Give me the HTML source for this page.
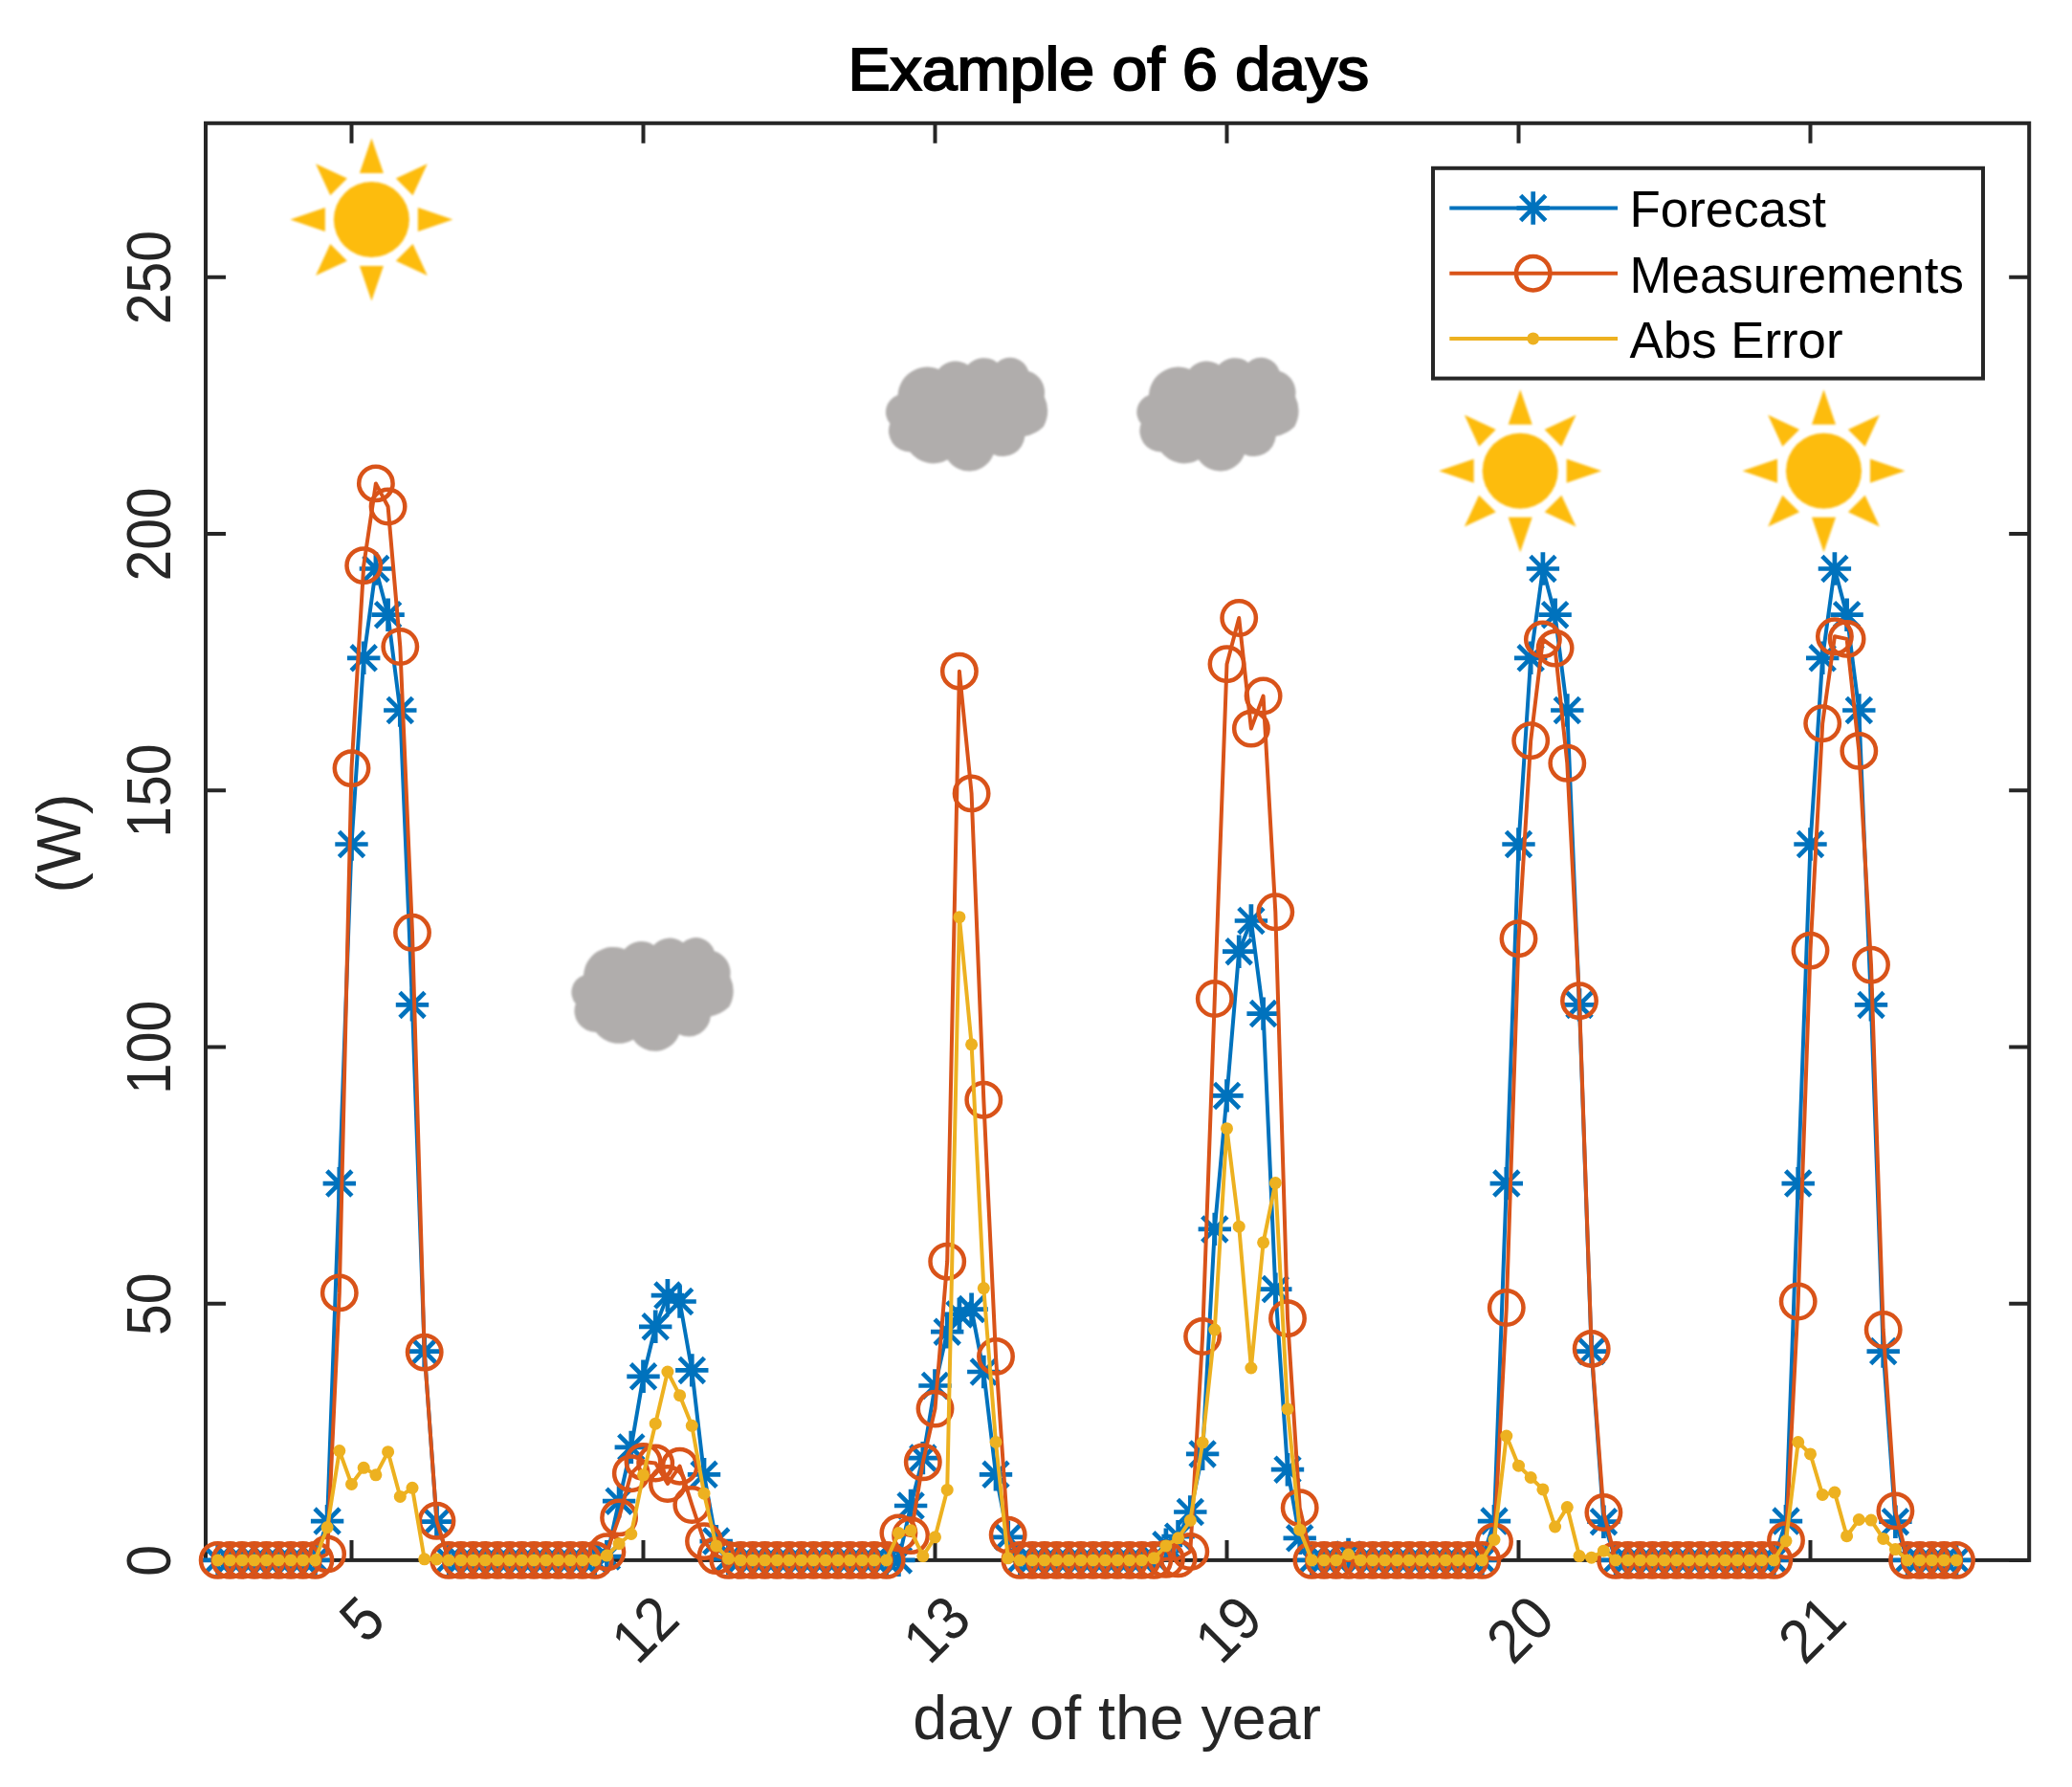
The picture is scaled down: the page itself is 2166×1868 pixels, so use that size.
<!DOCTYPE html>
<html lang="en"><head><meta charset="utf-8"><title>Example of 6 days</title>
<style>html,body{margin:0;padding:0;background:#fff}svg{display:block}text{font-family:"Liberation Sans",Arial,Helvetica,sans-serif}</style></head><body>
<svg width="2166" height="1868" viewBox="0 0 2166 1868">
<rect width="2166" height="1868" fill="#fff"/>
<defs>
<g id="st"><path d="M-17.2 0H17.2M0 -17.2V17.2M-13.07 -13.07L13.07 13.07M-13.07 13.07L13.07 -13.07" fill="none" stroke="#0072BD" stroke-width="4.7"/></g>
<circle id="ci" r="17.7" fill="none" stroke="#D95319" stroke-width="4.5"/>
<circle id="dt" r="6.5" fill="#EDB120"/>
<g id="sun" fill="#FDBC11" filter="url(#soft)"><circle r="39.5"/><path transform="rotate(0)" d="M-12.5 -48.5L0 -85.0L12.5 -48.5Z"/><path transform="rotate(45)" d="M-12.5 -48.5L0 -82.5L12.5 -48.5Z"/><path transform="rotate(90)" d="M-12.5 -48.5L0 -85.0L12.5 -48.5Z"/><path transform="rotate(135)" d="M-12.5 -48.5L0 -82.5L12.5 -48.5Z"/><path transform="rotate(180)" d="M-12.5 -48.5L0 -85.0L12.5 -48.5Z"/><path transform="rotate(225)" d="M-12.5 -48.5L0 -82.5L12.5 -48.5Z"/><path transform="rotate(270)" d="M-12.5 -48.5L0 -85.0L12.5 -48.5Z"/><path transform="rotate(315)" d="M-12.5 -48.5L0 -82.5L12.5 -48.5Z"/></g>
<filter id="soft" x="-5%" y="-5%" width="110%" height="110%"><feGaussianBlur stdDeviation="0.9"/></filter>
<g id="cloud" fill="#B0ADAC" filter="url(#soft)"><path d="M12.5 39.4A31.0 31.0 0 0 1 55.2 12.3A23.0 23.0 0 0 1 85.8 8.0A22.7 22.7 0 0 1 116.4 5.3A20.3 20.3 0 0 1 149.3 14.3A23.4 23.4 0 0 1 165.7 40.9A35.4 35.4 0 0 1 164.9 72.3A38.7 38.7 0 0 1 145.4 82.4A23.1 23.1 0 0 1 112.5 101.3A27.1 27.1 0 0 1 64.6 106.8A30.5 30.5 0 0 1 25.4 98.9A22.1 22.1 0 0 1 4.3 69.2A18.8 18.8 0 0 1 12.5 39.4Z"/></g>
</defs>
<path d="M367.5 1630.9V1609.9M367.5 128.8V149.8M672.5 1630.9V1609.9M672.5 128.8V149.8M977.5 1630.9V1609.9M977.5 128.8V149.8M1282.5 1630.9V1609.9M1282.5 128.8V149.8M1587.5 1630.9V1609.9M1587.5 128.8V149.8M1892.5 1630.9V1609.9M1892.5 128.8V149.8M215.0 1630.9H236.0M2121.2 1630.9H2100.2M215.0 1362.7H236.0M2121.2 1362.7H2100.2M215.0 1094.4H236.0M2121.2 1094.4H2100.2M215.0 826.2H236.0M2121.2 826.2H2100.2M215.0 558.0H236.0M2121.2 558.0H2100.2M215.0 289.7H236.0M2121.2 289.7H2100.2" fill="none" stroke="#262626" stroke-width="4"/>
<rect x="215.0" y="128.8" width="1906.2" height="1502.1" fill="none" stroke="#262626" stroke-width="4"/>
<g id="forecast"><polyline points="227.7,1630.9 240.4,1630.9 253.1,1630.9 265.8,1630.9 278.5,1630.9 291.2,1630.9 304.0,1630.9 316.7,1630.9 329.4,1630.9 342.1,1590.1 354.8,1237.1 367.5,882.5 380.2,687.8 392.9,594.5 405.6,642.7 418.3,742.5 431.0,1050.4 443.7,1412.6 456.5,1590.7 469.2,1630.9 481.9,1630.9 494.6,1630.9 507.3,1630.9 520.0,1630.9 532.7,1630.9 545.4,1630.9 558.1,1630.9 570.8,1630.9 583.5,1630.9 596.2,1630.9 608.9,1630.9 621.7,1630.9 634.4,1627.1 647.1,1569.2 659.8,1512.9 672.5,1438.8 685.2,1386.8 697.9,1354.1 710.6,1360.5 723.3,1432.4 736.0,1541.3 748.7,1611.1 761.4,1629.3 774.2,1630.9 786.9,1630.9 799.6,1630.9 812.3,1630.9 825.0,1630.9 837.7,1630.9 850.4,1630.9 863.1,1630.9 875.8,1630.9 888.5,1630.9 901.2,1630.9 913.9,1630.9 926.6,1630.9 939.4,1630.9 952.1,1574.0 964.8,1524.1 977.5,1448.5 990.2,1392.2 1002.9,1373.9 1015.6,1368.6 1028.3,1434.0 1041.0,1541.3 1053.7,1606.8 1066.4,1630.9 1079.1,1630.9 1091.9,1630.9 1104.6,1630.9 1117.3,1630.9 1130.0,1630.9 1142.7,1630.9 1155.4,1630.9 1168.1,1630.9 1180.8,1630.9 1193.5,1630.9 1206.2,1628.8 1218.9,1614.8 1231.6,1606.2 1244.3,1580.5 1257.1,1519.9 1269.8,1284.9 1282.5,1145.4 1295.2,994.7 1307.9,962.5 1320.6,1059.6 1333.3,1347.6 1346.0,1536.2 1358.7,1607.8 1371.4,1630.9 1384.1,1630.9 1396.8,1630.9 1409.6,1625.0 1422.3,1630.9 1435.0,1630.9 1447.7,1630.9 1460.4,1630.9 1473.1,1630.9 1485.8,1630.9 1498.5,1630.9 1511.2,1630.9 1523.9,1630.9 1536.6,1630.9 1549.3,1630.9 1562.0,1590.1 1574.8,1237.1 1587.5,882.5 1600.2,687.8 1612.9,594.5 1625.6,642.7 1638.3,742.5 1651.0,1050.4 1663.7,1412.6 1676.4,1590.7 1689.1,1630.9 1701.8,1630.9 1714.5,1630.9 1727.3,1630.9 1740.0,1630.9 1752.7,1630.9 1765.4,1630.9 1778.1,1630.9 1790.8,1630.9 1803.5,1630.9 1816.2,1630.9 1828.9,1630.9 1841.6,1630.9 1854.3,1630.9 1867.0,1590.1 1879.7,1237.1 1892.5,882.5 1905.2,687.8 1917.9,594.5 1930.6,642.7 1943.3,742.5 1956.0,1050.4 1968.7,1412.6 1981.4,1590.7 1994.1,1630.9 2006.8,1630.9 2019.5,1630.9 2032.2,1630.9 2045.0,1630.9" fill="none" stroke="#0072BD" stroke-width="4.0" stroke-linejoin="round"/>
<use  href="#st" x="227.7" y="1630.9"/><use  href="#st" x="240.4" y="1630.9"/><use  href="#st" x="253.1" y="1630.9"/><use  href="#st" x="265.8" y="1630.9"/><use  href="#st" x="278.5" y="1630.9"/><use  href="#st" x="291.2" y="1630.9"/><use  href="#st" x="304.0" y="1630.9"/><use  href="#st" x="316.7" y="1630.9"/><use  href="#st" x="329.4" y="1630.9"/><use  href="#st" x="342.1" y="1590.1"/><use  href="#st" x="354.8" y="1237.1"/><use  href="#st" x="367.5" y="882.5"/><use  href="#st" x="380.2" y="687.8"/><use  href="#st" x="392.9" y="594.5"/><use  href="#st" x="405.6" y="642.7"/><use  href="#st" x="418.3" y="742.5"/><use  href="#st" x="431.0" y="1050.4"/><use  href="#st" x="443.7" y="1412.6"/><use  href="#st" x="456.5" y="1590.7"/><use  href="#st" x="469.2" y="1630.9"/><use  href="#st" x="481.9" y="1630.9"/><use  href="#st" x="494.6" y="1630.9"/><use  href="#st" x="507.3" y="1630.9"/><use  href="#st" x="520.0" y="1630.9"/><use  href="#st" x="532.7" y="1630.9"/><use  href="#st" x="545.4" y="1630.9"/><use  href="#st" x="558.1" y="1630.9"/><use  href="#st" x="570.8" y="1630.9"/><use  href="#st" x="583.5" y="1630.9"/><use  href="#st" x="596.2" y="1630.9"/><use  href="#st" x="608.9" y="1630.9"/><use  href="#st" x="621.7" y="1630.9"/><use  href="#st" x="634.4" y="1627.1"/><use  href="#st" x="647.1" y="1569.2"/><use  href="#st" x="659.8" y="1512.9"/><use  href="#st" x="672.5" y="1438.8"/><use  href="#st" x="685.2" y="1386.8"/><use  href="#st" x="697.9" y="1354.1"/><use  href="#st" x="710.6" y="1360.5"/><use  href="#st" x="723.3" y="1432.4"/><use  href="#st" x="736.0" y="1541.3"/><use  href="#st" x="748.7" y="1611.1"/><use  href="#st" x="761.4" y="1629.3"/><use  href="#st" x="774.2" y="1630.9"/><use  href="#st" x="786.9" y="1630.9"/><use  href="#st" x="799.6" y="1630.9"/><use  href="#st" x="812.3" y="1630.9"/><use  href="#st" x="825.0" y="1630.9"/><use  href="#st" x="837.7" y="1630.9"/><use  href="#st" x="850.4" y="1630.9"/><use  href="#st" x="863.1" y="1630.9"/><use  href="#st" x="875.8" y="1630.9"/><use  href="#st" x="888.5" y="1630.9"/><use  href="#st" x="901.2" y="1630.9"/><use  href="#st" x="913.9" y="1630.9"/><use  href="#st" x="926.6" y="1630.9"/><use  href="#st" x="939.4" y="1630.9"/><use  href="#st" x="952.1" y="1574.0"/><use  href="#st" x="964.8" y="1524.1"/><use  href="#st" x="977.5" y="1448.5"/><use  href="#st" x="990.2" y="1392.2"/><use  href="#st" x="1002.9" y="1373.9"/><use  href="#st" x="1015.6" y="1368.6"/><use  href="#st" x="1028.3" y="1434.0"/><use  href="#st" x="1041.0" y="1541.3"/><use  href="#st" x="1053.7" y="1606.8"/><use  href="#st" x="1066.4" y="1630.9"/><use  href="#st" x="1079.1" y="1630.9"/><use  href="#st" x="1091.9" y="1630.9"/><use  href="#st" x="1104.6" y="1630.9"/><use  href="#st" x="1117.3" y="1630.9"/><use  href="#st" x="1130.0" y="1630.9"/><use  href="#st" x="1142.7" y="1630.9"/><use  href="#st" x="1155.4" y="1630.9"/><use  href="#st" x="1168.1" y="1630.9"/><use  href="#st" x="1180.8" y="1630.9"/><use  href="#st" x="1193.5" y="1630.9"/><use  href="#st" x="1206.2" y="1628.8"/><use  href="#st" x="1218.9" y="1614.8"/><use  href="#st" x="1231.6" y="1606.2"/><use  href="#st" x="1244.3" y="1580.5"/><use  href="#st" x="1257.1" y="1519.9"/><use  href="#st" x="1269.8" y="1284.9"/><use  href="#st" x="1282.5" y="1145.4"/><use  href="#st" x="1295.2" y="994.7"/><use  href="#st" x="1307.9" y="962.5"/><use  href="#st" x="1320.6" y="1059.6"/><use  href="#st" x="1333.3" y="1347.6"/><use  href="#st" x="1346.0" y="1536.2"/><use  href="#st" x="1358.7" y="1607.8"/><use  href="#st" x="1371.4" y="1630.9"/><use  href="#st" x="1384.1" y="1630.9"/><use  href="#st" x="1396.8" y="1630.9"/><use  href="#st" x="1409.6" y="1625.0"/><use  href="#st" x="1422.3" y="1630.9"/><use  href="#st" x="1435.0" y="1630.9"/><use  href="#st" x="1447.7" y="1630.9"/><use  href="#st" x="1460.4" y="1630.9"/><use  href="#st" x="1473.1" y="1630.9"/><use  href="#st" x="1485.8" y="1630.9"/><use  href="#st" x="1498.5" y="1630.9"/><use  href="#st" x="1511.2" y="1630.9"/><use  href="#st" x="1523.9" y="1630.9"/><use  href="#st" x="1536.6" y="1630.9"/><use  href="#st" x="1549.3" y="1630.9"/><use  href="#st" x="1562.0" y="1590.1"/><use  href="#st" x="1574.8" y="1237.1"/><use  href="#st" x="1587.5" y="882.5"/><use  href="#st" x="1600.2" y="687.8"/><use  href="#st" x="1612.9" y="594.5"/><use  href="#st" x="1625.6" y="642.7"/><use  href="#st" x="1638.3" y="742.5"/><use  href="#st" x="1651.0" y="1050.4"/><use  href="#st" x="1663.7" y="1412.6"/><use  href="#st" x="1676.4" y="1590.7"/><use  href="#st" x="1689.1" y="1630.9"/><use  href="#st" x="1701.8" y="1630.9"/><use  href="#st" x="1714.5" y="1630.9"/><use  href="#st" x="1727.3" y="1630.9"/><use  href="#st" x="1740.0" y="1630.9"/><use  href="#st" x="1752.7" y="1630.9"/><use  href="#st" x="1765.4" y="1630.9"/><use  href="#st" x="1778.1" y="1630.9"/><use  href="#st" x="1790.8" y="1630.9"/><use  href="#st" x="1803.5" y="1630.9"/><use  href="#st" x="1816.2" y="1630.9"/><use  href="#st" x="1828.9" y="1630.9"/><use  href="#st" x="1841.6" y="1630.9"/><use  href="#st" x="1854.3" y="1630.9"/><use  href="#st" x="1867.0" y="1590.1"/><use  href="#st" x="1879.7" y="1237.1"/><use  href="#st" x="1892.5" y="882.5"/><use  href="#st" x="1905.2" y="687.8"/><use  href="#st" x="1917.9" y="594.5"/><use  href="#st" x="1930.6" y="642.7"/><use  href="#st" x="1943.3" y="742.5"/><use  href="#st" x="1956.0" y="1050.4"/><use  href="#st" x="1968.7" y="1412.6"/><use  href="#st" x="1981.4" y="1590.7"/><use  href="#st" x="1994.1" y="1630.9"/><use  href="#st" x="2006.8" y="1630.9"/><use  href="#st" x="2019.5" y="1630.9"/><use  href="#st" x="2032.2" y="1630.9"/><use  href="#st" x="2045.0" y="1630.9"/></g>
<g id="meas"><polyline points="227.7,1630.9 240.4,1630.9 253.1,1630.9 265.8,1630.9 278.5,1630.9 291.2,1630.9 304.0,1630.9 316.7,1630.9 329.4,1630.9 342.1,1624.5 354.8,1351.4 367.5,803.1 380.2,591.2 392.9,505.4 405.6,529.5 418.3,676.0 431.0,974.8 443.7,1413.6 456.5,1589.8 469.2,1630.9 481.9,1630.9 494.6,1630.9 507.3,1630.9 520.0,1630.9 532.7,1630.9 545.4,1630.9 558.1,1630.9 570.8,1630.9 583.5,1630.9 596.2,1630.9 608.9,1630.9 621.7,1630.9 634.4,1622.3 647.1,1586.4 659.8,1540.2 672.5,1527.9 685.2,1529.5 697.9,1551.0 710.6,1532.7 723.3,1573.0 736.0,1611.1 748.7,1626.1 761.4,1630.9 774.2,1630.9 786.9,1630.9 799.6,1630.9 812.3,1630.9 825.0,1630.9 837.7,1630.9 850.4,1630.9 863.1,1630.9 875.8,1630.9 888.5,1630.9 901.2,1630.9 913.9,1630.9 926.6,1630.9 939.4,1602.5 952.1,1605.1 964.8,1528.4 977.5,1472.6 990.2,1318.7 1002.9,701.7 1015.6,829.4 1028.3,1149.7 1041.0,1417.9 1053.7,1604.6 1066.4,1630.9 1079.1,1630.9 1091.9,1630.9 1104.6,1630.9 1117.3,1630.9 1130.0,1630.9 1142.7,1630.9 1155.4,1630.9 1168.1,1630.9 1180.8,1630.9 1193.5,1630.9 1206.2,1630.9 1218.9,1629.8 1231.6,1629.3 1244.3,1622.0 1257.1,1397.0 1269.8,1044.0 1282.5,694.2 1295.2,646.0 1307.9,761.6 1320.6,727.5 1333.3,953.3 1346.0,1378.2 1358.7,1576.2 1371.4,1630.9 1384.1,1630.9 1396.8,1630.9 1409.6,1630.9 1422.3,1630.9 1435.0,1630.9 1447.7,1630.9 1460.4,1630.9 1473.1,1630.9 1485.8,1630.9 1498.5,1630.9 1511.2,1630.9 1523.9,1630.9 1536.6,1630.9 1549.3,1630.9 1562.0,1611.6 1574.8,1367.0 1587.5,981.2 1600.2,774.2 1612.9,668.5 1625.6,677.6 1638.3,797.8 1651.0,1046.2 1663.7,1409.9 1676.4,1581.0 1689.1,1630.9 1701.8,1630.9 1714.5,1630.9 1727.3,1630.9 1740.0,1630.9 1752.7,1630.9 1765.4,1630.9 1778.1,1630.9 1790.8,1630.9 1803.5,1630.9 1816.2,1630.9 1828.9,1630.9 1841.6,1630.9 1854.3,1630.9 1867.0,1610.2 1879.7,1360.5 1892.5,993.6 1905.2,756.2 1917.9,665.3 1930.6,667.9 1943.3,784.9 1956.0,1008.6 1968.7,1390.0 1981.4,1579.4 1994.1,1630.9 2006.8,1630.9 2019.5,1630.9 2032.2,1630.9 2045.0,1630.9" fill="none" stroke="#D95319" stroke-width="4.0" stroke-linejoin="round"/>
<use  href="#ci" x="227.7" y="1630.9"/><use  href="#ci" x="240.4" y="1630.9"/><use  href="#ci" x="253.1" y="1630.9"/><use  href="#ci" x="265.8" y="1630.9"/><use  href="#ci" x="278.5" y="1630.9"/><use  href="#ci" x="291.2" y="1630.9"/><use  href="#ci" x="304.0" y="1630.9"/><use  href="#ci" x="316.7" y="1630.9"/><use  href="#ci" x="329.4" y="1630.9"/><use  href="#ci" x="342.1" y="1624.5"/><use  href="#ci" x="354.8" y="1351.4"/><use  href="#ci" x="367.5" y="803.1"/><use  href="#ci" x="380.2" y="591.2"/><use  href="#ci" x="392.9" y="505.4"/><use  href="#ci" x="405.6" y="529.5"/><use  href="#ci" x="418.3" y="676.0"/><use  href="#ci" x="431.0" y="974.8"/><use  href="#ci" x="443.7" y="1413.6"/><use  href="#ci" x="456.5" y="1589.8"/><use  href="#ci" x="469.2" y="1630.9"/><use  href="#ci" x="481.9" y="1630.9"/><use  href="#ci" x="494.6" y="1630.9"/><use  href="#ci" x="507.3" y="1630.9"/><use  href="#ci" x="520.0" y="1630.9"/><use  href="#ci" x="532.7" y="1630.9"/><use  href="#ci" x="545.4" y="1630.9"/><use  href="#ci" x="558.1" y="1630.9"/><use  href="#ci" x="570.8" y="1630.9"/><use  href="#ci" x="583.5" y="1630.9"/><use  href="#ci" x="596.2" y="1630.9"/><use  href="#ci" x="608.9" y="1630.9"/><use  href="#ci" x="621.7" y="1630.9"/><use  href="#ci" x="634.4" y="1622.3"/><use  href="#ci" x="647.1" y="1586.4"/><use  href="#ci" x="659.8" y="1540.2"/><use  href="#ci" x="672.5" y="1527.9"/><use  href="#ci" x="685.2" y="1529.5"/><use  href="#ci" x="697.9" y="1551.0"/><use  href="#ci" x="710.6" y="1532.7"/><use  href="#ci" x="723.3" y="1573.0"/><use  href="#ci" x="736.0" y="1611.1"/><use  href="#ci" x="748.7" y="1626.1"/><use  href="#ci" x="761.4" y="1630.9"/><use  href="#ci" x="774.2" y="1630.9"/><use  href="#ci" x="786.9" y="1630.9"/><use  href="#ci" x="799.6" y="1630.9"/><use  href="#ci" x="812.3" y="1630.9"/><use  href="#ci" x="825.0" y="1630.9"/><use  href="#ci" x="837.7" y="1630.9"/><use  href="#ci" x="850.4" y="1630.9"/><use  href="#ci" x="863.1" y="1630.9"/><use  href="#ci" x="875.8" y="1630.9"/><use  href="#ci" x="888.5" y="1630.9"/><use  href="#ci" x="901.2" y="1630.9"/><use  href="#ci" x="913.9" y="1630.9"/><use  href="#ci" x="926.6" y="1630.9"/><use  href="#ci" x="939.4" y="1602.5"/><use  href="#ci" x="952.1" y="1605.1"/><use  href="#ci" x="964.8" y="1528.4"/><use  href="#ci" x="977.5" y="1472.6"/><use  href="#ci" x="990.2" y="1318.7"/><use  href="#ci" x="1002.9" y="701.7"/><use  href="#ci" x="1015.6" y="829.4"/><use  href="#ci" x="1028.3" y="1149.7"/><use  href="#ci" x="1041.0" y="1417.9"/><use  href="#ci" x="1053.7" y="1604.6"/><use  href="#ci" x="1066.4" y="1630.9"/><use  href="#ci" x="1079.1" y="1630.9"/><use  href="#ci" x="1091.9" y="1630.9"/><use  href="#ci" x="1104.6" y="1630.9"/><use  href="#ci" x="1117.3" y="1630.9"/><use  href="#ci" x="1130.0" y="1630.9"/><use  href="#ci" x="1142.7" y="1630.9"/><use  href="#ci" x="1155.4" y="1630.9"/><use  href="#ci" x="1168.1" y="1630.9"/><use  href="#ci" x="1180.8" y="1630.9"/><use  href="#ci" x="1193.5" y="1630.9"/><use  href="#ci" x="1206.2" y="1630.9"/><use  href="#ci" x="1218.9" y="1629.8"/><use  href="#ci" x="1231.6" y="1629.3"/><use  href="#ci" x="1244.3" y="1622.0"/><use  href="#ci" x="1257.1" y="1397.0"/><use  href="#ci" x="1269.8" y="1044.0"/><use  href="#ci" x="1282.5" y="694.2"/><use  href="#ci" x="1295.2" y="646.0"/><use  href="#ci" x="1307.9" y="761.6"/><use  href="#ci" x="1320.6" y="727.5"/><use  href="#ci" x="1333.3" y="953.3"/><use  href="#ci" x="1346.0" y="1378.2"/><use  href="#ci" x="1358.7" y="1576.2"/><use  href="#ci" x="1371.4" y="1630.9"/><use  href="#ci" x="1384.1" y="1630.9"/><use  href="#ci" x="1396.8" y="1630.9"/><use  href="#ci" x="1409.6" y="1630.9"/><use  href="#ci" x="1422.3" y="1630.9"/><use  href="#ci" x="1435.0" y="1630.9"/><use  href="#ci" x="1447.7" y="1630.9"/><use  href="#ci" x="1460.4" y="1630.9"/><use  href="#ci" x="1473.1" y="1630.9"/><use  href="#ci" x="1485.8" y="1630.9"/><use  href="#ci" x="1498.5" y="1630.9"/><use  href="#ci" x="1511.2" y="1630.9"/><use  href="#ci" x="1523.9" y="1630.9"/><use  href="#ci" x="1536.6" y="1630.9"/><use  href="#ci" x="1549.3" y="1630.9"/><use  href="#ci" x="1562.0" y="1611.6"/><use  href="#ci" x="1574.8" y="1367.0"/><use  href="#ci" x="1587.5" y="981.2"/><use  href="#ci" x="1600.2" y="774.2"/><use  href="#ci" x="1612.9" y="668.5"/><use  href="#ci" x="1625.6" y="677.6"/><use  href="#ci" x="1638.3" y="797.8"/><use  href="#ci" x="1651.0" y="1046.2"/><use  href="#ci" x="1663.7" y="1409.9"/><use  href="#ci" x="1676.4" y="1581.0"/><use  href="#ci" x="1689.1" y="1630.9"/><use  href="#ci" x="1701.8" y="1630.9"/><use  href="#ci" x="1714.5" y="1630.9"/><use  href="#ci" x="1727.3" y="1630.9"/><use  href="#ci" x="1740.0" y="1630.9"/><use  href="#ci" x="1752.7" y="1630.9"/><use  href="#ci" x="1765.4" y="1630.9"/><use  href="#ci" x="1778.1" y="1630.9"/><use  href="#ci" x="1790.8" y="1630.9"/><use  href="#ci" x="1803.5" y="1630.9"/><use  href="#ci" x="1816.2" y="1630.9"/><use  href="#ci" x="1828.9" y="1630.9"/><use  href="#ci" x="1841.6" y="1630.9"/><use  href="#ci" x="1854.3" y="1630.9"/><use  href="#ci" x="1867.0" y="1610.2"/><use  href="#ci" x="1879.7" y="1360.5"/><use  href="#ci" x="1892.5" y="993.6"/><use  href="#ci" x="1905.2" y="756.2"/><use  href="#ci" x="1917.9" y="665.3"/><use  href="#ci" x="1930.6" y="667.9"/><use  href="#ci" x="1943.3" y="784.9"/><use  href="#ci" x="1956.0" y="1008.6"/><use  href="#ci" x="1968.7" y="1390.0"/><use  href="#ci" x="1981.4" y="1579.4"/><use  href="#ci" x="1994.1" y="1630.9"/><use  href="#ci" x="2006.8" y="1630.9"/><use  href="#ci" x="2019.5" y="1630.9"/><use  href="#ci" x="2032.2" y="1630.9"/><use  href="#ci" x="2045.0" y="1630.9"/></g>
<g id="err"><polyline points="227.7,1630.9 240.4,1630.9 253.1,1630.9 265.8,1630.9 278.5,1630.9 291.2,1630.9 304.0,1630.9 316.7,1630.9 329.4,1630.9 342.1,1596.6 354.8,1516.6 367.5,1551.5 380.2,1534.3 392.9,1541.8 405.6,1517.7 418.3,1564.4 431.0,1555.3 443.7,1629.8 456.5,1630.0 469.2,1630.9 481.9,1630.9 494.6,1630.9 507.3,1630.9 520.0,1630.9 532.7,1630.9 545.4,1630.9 558.1,1630.9 570.8,1630.9 583.5,1630.9 596.2,1630.9 608.9,1630.9 621.7,1630.9 634.4,1626.1 647.1,1613.7 659.8,1603.5 672.5,1541.8 685.2,1488.2 697.9,1434.0 710.6,1458.7 723.3,1490.3 736.0,1561.2 748.7,1615.9 761.4,1629.3 774.2,1630.9 786.9,1630.9 799.6,1630.9 812.3,1630.9 825.0,1630.9 837.7,1630.9 850.4,1630.9 863.1,1630.9 875.8,1630.9 888.5,1630.9 901.2,1630.9 913.9,1630.9 926.6,1630.9 939.4,1602.5 952.1,1599.8 964.8,1626.6 977.5,1606.8 990.2,1557.4 1002.9,958.7 1015.6,1091.8 1028.3,1346.6 1041.0,1507.5 1053.7,1628.8 1066.4,1630.9 1079.1,1630.9 1091.9,1630.9 1104.6,1630.9 1117.3,1630.9 1130.0,1630.9 1142.7,1630.9 1155.4,1630.9 1168.1,1630.9 1180.8,1630.9 1193.5,1630.9 1206.2,1628.8 1218.9,1615.9 1231.6,1607.8 1244.3,1589.3 1257.1,1508.0 1269.8,1390.0 1282.5,1179.7 1295.2,1282.2 1307.9,1430.0 1320.6,1298.8 1333.3,1236.6 1346.0,1472.9 1358.7,1599.2 1371.4,1630.9 1384.1,1630.9 1396.8,1630.9 1409.6,1625.0 1422.3,1630.9 1435.0,1630.9 1447.7,1630.9 1460.4,1630.9 1473.1,1630.9 1485.8,1630.9 1498.5,1630.9 1511.2,1630.9 1523.9,1630.9 1536.6,1630.9 1549.3,1630.9 1562.0,1609.4 1574.8,1501.1 1587.5,1532.2 1600.2,1544.5 1612.9,1556.9 1625.6,1596.0 1638.3,1575.6 1651.0,1626.6 1663.7,1628.2 1676.4,1621.2 1689.1,1630.9 1701.8,1630.9 1714.5,1630.9 1727.3,1630.9 1740.0,1630.9 1752.7,1630.9 1765.4,1630.9 1778.1,1630.9 1790.8,1630.9 1803.5,1630.9 1816.2,1630.9 1828.9,1630.9 1841.6,1630.9 1854.3,1630.9 1867.0,1610.8 1879.7,1507.5 1892.5,1519.9 1905.2,1562.5 1917.9,1560.1 1930.6,1605.7 1943.3,1588.5 1956.0,1589.1 1968.7,1608.4 1981.4,1619.6 1994.1,1630.9 2006.8,1630.9 2019.5,1630.9 2032.2,1630.9 2045.0,1630.9" fill="none" stroke="#EDB120" stroke-width="4.0" stroke-linejoin="round"/>
<use  href="#dt" x="227.7" y="1630.9"/><use  href="#dt" x="240.4" y="1630.9"/><use  href="#dt" x="253.1" y="1630.9"/><use  href="#dt" x="265.8" y="1630.9"/><use  href="#dt" x="278.5" y="1630.9"/><use  href="#dt" x="291.2" y="1630.9"/><use  href="#dt" x="304.0" y="1630.9"/><use  href="#dt" x="316.7" y="1630.9"/><use  href="#dt" x="329.4" y="1630.9"/><use  href="#dt" x="342.1" y="1596.6"/><use  href="#dt" x="354.8" y="1516.6"/><use  href="#dt" x="367.5" y="1551.5"/><use  href="#dt" x="380.2" y="1534.3"/><use  href="#dt" x="392.9" y="1541.8"/><use  href="#dt" x="405.6" y="1517.7"/><use  href="#dt" x="418.3" y="1564.4"/><use  href="#dt" x="431.0" y="1555.3"/><use  href="#dt" x="443.7" y="1629.8"/><use  href="#dt" x="456.5" y="1630.0"/><use  href="#dt" x="469.2" y="1630.9"/><use  href="#dt" x="481.9" y="1630.9"/><use  href="#dt" x="494.6" y="1630.9"/><use  href="#dt" x="507.3" y="1630.9"/><use  href="#dt" x="520.0" y="1630.9"/><use  href="#dt" x="532.7" y="1630.9"/><use  href="#dt" x="545.4" y="1630.9"/><use  href="#dt" x="558.1" y="1630.9"/><use  href="#dt" x="570.8" y="1630.9"/><use  href="#dt" x="583.5" y="1630.9"/><use  href="#dt" x="596.2" y="1630.9"/><use  href="#dt" x="608.9" y="1630.9"/><use  href="#dt" x="621.7" y="1630.9"/><use  href="#dt" x="634.4" y="1626.1"/><use  href="#dt" x="647.1" y="1613.7"/><use  href="#dt" x="659.8" y="1603.5"/><use  href="#dt" x="672.5" y="1541.8"/><use  href="#dt" x="685.2" y="1488.2"/><use  href="#dt" x="697.9" y="1434.0"/><use  href="#dt" x="710.6" y="1458.7"/><use  href="#dt" x="723.3" y="1490.3"/><use  href="#dt" x="736.0" y="1561.2"/><use  href="#dt" x="748.7" y="1615.9"/><use  href="#dt" x="761.4" y="1629.3"/><use  href="#dt" x="774.2" y="1630.9"/><use  href="#dt" x="786.9" y="1630.9"/><use  href="#dt" x="799.6" y="1630.9"/><use  href="#dt" x="812.3" y="1630.9"/><use  href="#dt" x="825.0" y="1630.9"/><use  href="#dt" x="837.7" y="1630.9"/><use  href="#dt" x="850.4" y="1630.9"/><use  href="#dt" x="863.1" y="1630.9"/><use  href="#dt" x="875.8" y="1630.9"/><use  href="#dt" x="888.5" y="1630.9"/><use  href="#dt" x="901.2" y="1630.9"/><use  href="#dt" x="913.9" y="1630.9"/><use  href="#dt" x="926.6" y="1630.9"/><use  href="#dt" x="939.4" y="1602.5"/><use  href="#dt" x="952.1" y="1599.8"/><use  href="#dt" x="964.8" y="1626.6"/><use  href="#dt" x="977.5" y="1606.8"/><use  href="#dt" x="990.2" y="1557.4"/><use  href="#dt" x="1002.9" y="958.7"/><use  href="#dt" x="1015.6" y="1091.8"/><use  href="#dt" x="1028.3" y="1346.6"/><use  href="#dt" x="1041.0" y="1507.5"/><use  href="#dt" x="1053.7" y="1628.8"/><use  href="#dt" x="1066.4" y="1630.9"/><use  href="#dt" x="1079.1" y="1630.9"/><use  href="#dt" x="1091.9" y="1630.9"/><use  href="#dt" x="1104.6" y="1630.9"/><use  href="#dt" x="1117.3" y="1630.9"/><use  href="#dt" x="1130.0" y="1630.9"/><use  href="#dt" x="1142.7" y="1630.9"/><use  href="#dt" x="1155.4" y="1630.9"/><use  href="#dt" x="1168.1" y="1630.9"/><use  href="#dt" x="1180.8" y="1630.9"/><use  href="#dt" x="1193.5" y="1630.9"/><use  href="#dt" x="1206.2" y="1628.8"/><use  href="#dt" x="1218.9" y="1615.9"/><use  href="#dt" x="1231.6" y="1607.8"/><use  href="#dt" x="1244.3" y="1589.3"/><use  href="#dt" x="1257.1" y="1508.0"/><use  href="#dt" x="1269.8" y="1390.0"/><use  href="#dt" x="1282.5" y="1179.7"/><use  href="#dt" x="1295.2" y="1282.2"/><use  href="#dt" x="1307.9" y="1430.0"/><use  href="#dt" x="1320.6" y="1298.8"/><use  href="#dt" x="1333.3" y="1236.6"/><use  href="#dt" x="1346.0" y="1472.9"/><use  href="#dt" x="1358.7" y="1599.2"/><use  href="#dt" x="1371.4" y="1630.9"/><use  href="#dt" x="1384.1" y="1630.9"/><use  href="#dt" x="1396.8" y="1630.9"/><use  href="#dt" x="1409.6" y="1625.0"/><use  href="#dt" x="1422.3" y="1630.9"/><use  href="#dt" x="1435.0" y="1630.9"/><use  href="#dt" x="1447.7" y="1630.9"/><use  href="#dt" x="1460.4" y="1630.9"/><use  href="#dt" x="1473.1" y="1630.9"/><use  href="#dt" x="1485.8" y="1630.9"/><use  href="#dt" x="1498.5" y="1630.9"/><use  href="#dt" x="1511.2" y="1630.9"/><use  href="#dt" x="1523.9" y="1630.9"/><use  href="#dt" x="1536.6" y="1630.9"/><use  href="#dt" x="1549.3" y="1630.9"/><use  href="#dt" x="1562.0" y="1609.4"/><use  href="#dt" x="1574.8" y="1501.1"/><use  href="#dt" x="1587.5" y="1532.2"/><use  href="#dt" x="1600.2" y="1544.5"/><use  href="#dt" x="1612.9" y="1556.9"/><use  href="#dt" x="1625.6" y="1596.0"/><use  href="#dt" x="1638.3" y="1575.6"/><use  href="#dt" x="1651.0" y="1626.6"/><use  href="#dt" x="1663.7" y="1628.2"/><use  href="#dt" x="1676.4" y="1621.2"/><use  href="#dt" x="1689.1" y="1630.9"/><use  href="#dt" x="1701.8" y="1630.9"/><use  href="#dt" x="1714.5" y="1630.9"/><use  href="#dt" x="1727.3" y="1630.9"/><use  href="#dt" x="1740.0" y="1630.9"/><use  href="#dt" x="1752.7" y="1630.9"/><use  href="#dt" x="1765.4" y="1630.9"/><use  href="#dt" x="1778.1" y="1630.9"/><use  href="#dt" x="1790.8" y="1630.9"/><use  href="#dt" x="1803.5" y="1630.9"/><use  href="#dt" x="1816.2" y="1630.9"/><use  href="#dt" x="1828.9" y="1630.9"/><use  href="#dt" x="1841.6" y="1630.9"/><use  href="#dt" x="1854.3" y="1630.9"/><use  href="#dt" x="1867.0" y="1610.8"/><use  href="#dt" x="1879.7" y="1507.5"/><use  href="#dt" x="1892.5" y="1519.9"/><use  href="#dt" x="1905.2" y="1562.5"/><use  href="#dt" x="1917.9" y="1560.1"/><use  href="#dt" x="1930.6" y="1605.7"/><use  href="#dt" x="1943.3" y="1588.5"/><use  href="#dt" x="1956.0" y="1589.1"/><use  href="#dt" x="1968.7" y="1608.4"/><use  href="#dt" x="1981.4" y="1619.6"/><use  href="#dt" x="1994.1" y="1630.9"/><use  href="#dt" x="2006.8" y="1630.9"/><use  href="#dt" x="2019.5" y="1630.9"/><use  href="#dt" x="2032.2" y="1630.9"/><use  href="#dt" x="2045.0" y="1630.9"/></g>
<use  href="#sun" x="388.4" y="229.6"/>
<use  href="#sun" x="1589.2" y="492.2"/>
<use  href="#sun" x="1906.5" y="492.2"/>
<use  href="#cloud" x="597.5" y="980.0"/>
<use  href="#cloud" x="926.0" y="373.6"/>
<use  href="#cloud" x="1188.4" y="373.6"/>
<rect x="1498.0" y="175.8" width="575.0" height="219.8" fill="#fff" stroke="#262626" stroke-width="4"/>
<path d="M1515.3 217.5H1691" stroke="#0072BD" stroke-width="4" fill="none"/>
<use href="#st" x="1602.7" y="217.5"/>
<text x="1703.6" y="237.0" font-size="52.8" fill="#000">Forecast</text>
<path d="M1515.3 285.7H1691" stroke="#D95319" stroke-width="4" fill="none"/>
<use href="#ci" x="1602.7" y="285.7"/>
<text x="1703.6" y="305.9" font-size="52.8" fill="#000">Measurements</text>
<path d="M1515.3 353.9H1691" stroke="#EDB120" stroke-width="4" fill="none"/>
<use href="#dt" x="1602.7" y="353.9"/>
<text x="1703.6" y="373.7" font-size="52.8" fill="#000">Abs Error</text>
<text transform="translate(1158.8,94.4) scale(1.063,1)" font-size="62.3" stroke="#000" stroke-width="2.0" text-anchor="middle" fill="#000">Example of 6 days</text>
<text x="1167.7" y="1817.8" font-size="64.5" text-anchor="middle" fill="#262626">day of the year</text>
<text transform="translate(84,881.5) rotate(-90)" font-size="64.5" text-anchor="middle" fill="#262626">(W)</text>
<text transform="translate(178,1631.4) rotate(-90) scale(0.911,1)" font-size="64.6" text-anchor="middle" fill="#262626">0</text>
<text transform="translate(178,1363.2) rotate(-90) scale(0.911,1)" font-size="64.6" text-anchor="middle" fill="#262626">50</text>
<text transform="translate(178,1094.9) rotate(-90) scale(0.911,1)" font-size="64.6" text-anchor="middle" fill="#262626">100</text>
<text transform="translate(178,826.7) rotate(-90) scale(0.911,1)" font-size="64.6" text-anchor="middle" fill="#262626">150</text>
<text transform="translate(178,558.5) rotate(-90) scale(0.911,1)" font-size="64.6" text-anchor="middle" fill="#262626">200</text>
<text transform="translate(178,290.2) rotate(-90) scale(0.911,1)" font-size="64.6" text-anchor="middle" fill="#262626">250</text>
<text transform="translate(405.7,1696.5) rotate(-45) scale(0.911,1)" font-size="64.6" text-anchor="end" fill="#262626">5</text>
<text transform="translate(712.9,1695.5) rotate(-45) scale(0.911,1)" font-size="64.6" text-anchor="end" fill="#262626">12</text>
<text transform="translate(1017.9,1695.5) rotate(-45) scale(0.911,1)" font-size="64.6" text-anchor="end" fill="#262626">13</text>
<text transform="translate(1322.9,1695.5) rotate(-45) scale(0.911,1)" font-size="64.6" text-anchor="end" fill="#262626">19</text>
<text transform="translate(1627.9,1695.5) rotate(-45) scale(0.911,1)" font-size="64.6" text-anchor="end" fill="#262626">20</text>
<text transform="translate(1932.9,1695.5) rotate(-45) scale(0.911,1)" font-size="64.6" text-anchor="end" fill="#262626">21</text>
</svg></body></html>
